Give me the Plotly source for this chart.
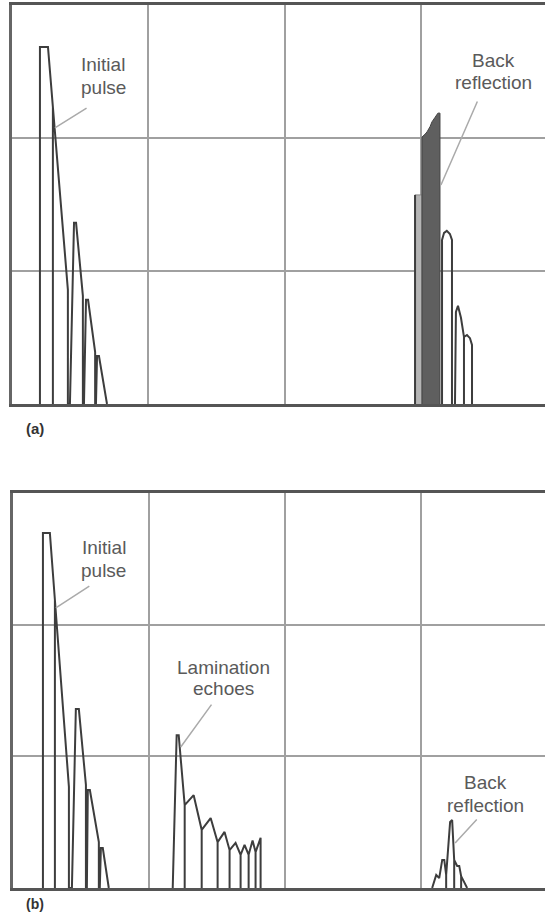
import plotly.graph_objects as go

# ---- data (time in screen divisions, amplitude in % of full screen height) ----
# Panel (a): initial pulse
A_INIT_T = [0.205, 0.205, 0.264, 0.30, 0.30, 0.30, 0.41, 0.41, 0.425, 0.455, 0.47, 0.52, 0.52,
            0.528, 0.543, 0.558, 0.61, 0.61, 0.616, 0.624, 0.638, 0.697]
A_INIT_AMP = [0, 89.5, 89.5, 74.4, 0, 74.4, 28.6, 0, 0, 45.4, 45.4, 27.1, 0,
              0, 26.1, 26.1, 13.0, 0, 0, 12.0, 12.0, 0]

# Panel (a): back reflection (dense group of echoes)
A_BACK_LIGHT_T = [2.957, 2.957, 3.008, 3.008]
A_BACK_LIGHT_AMP = [0, 52.4, 52.4, 0]
A_BACK_DARK_T = [3.008, 3.008, 3.03, 3.045, 3.067, 3.081, 3.103, 3.125, 3.14, 3.14]
A_BACK_DARK_AMP = [0, 66.9, 67.6, 68.2, 69.5, 70.7, 71.8, 72.9, 72.9, 0]
A_BACK_T = [2.957, 2.957, None,
            3.155, 3.155, 3.17, 3.19, 3.213, 3.228, 3.228, None,
            3.25, 3.257, 3.272, 3.294, 3.316, 3.316, 3.316, 3.338, 3.36, 3.375, 3.375]
A_BACK_AMP = [0, 52.4, None,
              0, 41.1, 42.9, 43.4, 42.6, 41.1, 0, None,
              0, 23.1, 24.6, 21.6, 16.8, 0, 16.8, 17.3, 16.5, 14.8, 0]

# Panel (b): initial pulse
B_INIT_T = [0.22, 0.22, 0.271, 0.308, 0.308, 0.308, 0.411, 0.411, 0.433, 0.462, 0.484, 0.536, 0.536,
            0.543, 0.55, 0.565, 0.631, 0.631, 0.638, 0.646, 0.66, 0.704]
B_INIT_AMP = [0, 89.9, 89.9, 72.9, 0, 72.9, 25.6, 0, 0, 45.3, 45.3, 26.1, 0,
              0, 24.8, 24.8, 11.6, 0, 0, 10.1, 10.1, 0]

# Panel (b): lamination echoes
B_LAM_T = [1.174, 1.203, 1.218, 1.262, 1.262, 1.262, 1.328, 1.387, 1.387, 1.387, 1.453, 1.504, 1.504,
           1.504, 1.555, 1.592, 1.592, 1.592, 1.636, 1.673, 1.673, 1.673, 1.702, 1.732, 1.732, 1.732,
           1.761, 1.783, 1.783, 1.783, 1.82, 1.82]
B_LAM_AMP = [0, 38.7, 38.7, 21.0, 0, 21.0, 23.5, 14.7, 0, 14.7, 17.7, 11.6, 0,
             11.6, 14.2, 9.6, 0, 9.6, 11.4, 8.4, 0, 8.4, 10.9, 8.4, 0, 8.4,
             12.0, 9.1, 0, 9.1, 12.7, 0]

# Panel (b): back reflection
B_BACK_T = [3.081, 3.111, 3.133, 3.155, 3.17, 3.184, 3.184, 3.184, 3.213, 3.228, 3.243, 3.243, 3.243,
            3.265, 3.28, 3.294, 3.294, 3.294, 3.309, 3.338]
B_BACK_AMP = [0, 3.3, 2.5, 7.1, 7.1, 3.3, 0, 3.3, 16.7, 17.2, 7.1, 0, 7.1,
              5.6, 5.6, 3.0, 0, 3.0, 2.0, 0]

GRID_T = [1, 2, 3]
GRID_AMP = [33.3, 66.7]

# label lines: (text, time, amplitude)
LABELS_A = [("Initial", 0.668, 85.2), ("pulse", 0.668, 79.4),
            ("Back", 3.529, 86.2), ("reflection", 3.529, 80.5)]
LEADERS_A = [((0.558, 74.4), (0.315, 69.2)), ((3.419, 76.2), (3.147, 54.9))]
LABELS_B = [("Initial", 0.668, 86.3), ("pulse", 0.668, 80.5),
            ("Lamination", 1.548, 55.9), ("echoes", 1.548, 50.6),
            ("Back", 3.47, 26.6), ("reflection", 3.47, 21.0)]
LEADERS_B = [((0.572, 76.7), (0.315, 70.9)), ((1.467, 46.8), (1.233, 35.7)),
             ((3.419, 17.7), (3.25, 11.4))]

W, H = 545, 915
LINE = "#3d3d3d"
GRID = "#a0a0a0"

fig = go.Figure()

def trace(t, a, ax, width=2.0, color=LINE):
    fig.add_trace(go.Scatter(x=t, y=a, mode="lines", line=dict(color=color, width=width),
                             xaxis=ax[0], yaxis=ax[1], hoverinfo="skip", showlegend=False,
                             connectgaps=False))

def poly(t, a, ax, fill, color):
    fig.add_trace(go.Scatter(x=t, y=a, mode="lines", fill="toself", fillcolor=fill,
                             line=dict(color=color, width=1), xaxis=ax[0], yaxis=ax[1],
                             hoverinfo="skip", showlegend=False))

AX_A = ("x", "y")
AX_B = ("x2", "y2")

poly(A_BACK_LIGHT_T, A_BACK_LIGHT_AMP, AX_A, "#b5b5b5", "#888")
poly(A_BACK_DARK_T, A_BACK_DARK_AMP, AX_A, "#5f5f5f", "#444")
trace(A_INIT_T, A_INIT_AMP, AX_A)
trace(A_BACK_T, A_BACK_AMP, AX_A)
trace(B_INIT_T, B_INIT_AMP, AX_B)
trace(B_LAM_T, B_LAM_AMP, AX_B)
trace(B_BACK_T, B_BACK_AMP, AX_B)

FONT = "Liberation Sans, Arial"
annotations = []
for labels, leaders, xr, yr in [(LABELS_A, LEADERS_A, "x", "y"), (LABELS_B, LEADERS_B, "x2", "y2")]:
    for text, tx, ty in labels:
        annotations.append(dict(text=text, x=tx, y=ty, xref=xr, yref=yr, showarrow=False,
                                font=dict(family=FONT, size=19, color="#5a5a5a"),
                                align="center", xanchor="center", yanchor="middle"))
    for (x0, y0), (x1, y1) in leaders:
        annotations.append(dict(text="", x=x1, y=y1, ax=x0, ay=y0, xref=xr, yref=yr,
                                axref=xr, ayref=yr, showarrow=True, arrowhead=0,
                                arrowwidth=1.5, arrowcolor="#aaaaaa"))

annotations.append(dict(text="<b>(a)</b>", x=24 / W, y=1 - 429 / H, xref="paper", yref="paper",
                        showarrow=False, yanchor="middle",
                        font=dict(family=FONT, size=15, color="#333")))
annotations.append(dict(text="<b>(b)</b>", x=24 / W, y=1 - 904 / H, xref="paper", yref="paper",
                        showarrow=False, yanchor="middle",
                        font=dict(family=FONT, size=14, color="#333")))

xr_max = (W - 12) / 136.3
xcommon = dict(range=[0, xr_max], tickvals=GRID_T, showticklabels=False, ticks="",
               showgrid=True, gridcolor=GRID, gridwidth=2, zeroline=False,
               showline=True, linecolor="#555", linewidth=3, mirror=True)
ycommon = dict(range=[0, 100], tickvals=GRID_AMP, showticklabels=False, ticks="",
               showgrid=True, gridcolor=GRID, gridwidth=2, zeroline=False,
               showline=True, linecolor="#666", linewidth=3, mirror=False)

fig.update_layout(
    width=W, height=H, margin=dict(l=0, r=0, t=0, b=0),
    paper_bgcolor="white", plot_bgcolor="white",
    xaxis=dict(domain=[12 / W, 1], anchor="y", **xcommon),
    yaxis=dict(domain=[1 - 404 / H, 1 - 5 / H], anchor="x", **ycommon),
    xaxis2=dict(domain=[13 / W, 1], anchor="y2", **xcommon),
    yaxis2=dict(domain=[1 - 888 / H, 1 - 493 / H], anchor="x2", **ycommon),
    annotations=annotations,
)

fig.write_html("out.html", config={"displayModeBar": False},
               post_script="document.body.style.margin='0';")
